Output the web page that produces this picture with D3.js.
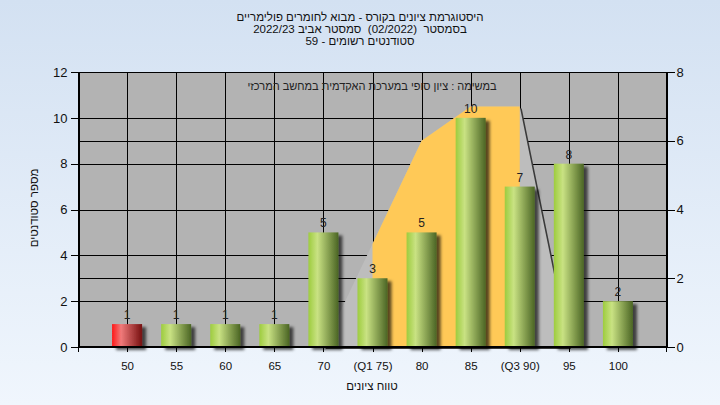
<!DOCTYPE html>
<html>
<head>
<meta charset="utf-8">
<script src="https://cdn.jsdelivr.net/npm/d3@7"></script>
<style>
  html, body { margin: 0; padding: 0; }
  body { width: 720px; height: 405px; overflow: hidden; }
  text { font-family: "Liberation Sans", "DejaVu Sans", Arial, sans-serif; }
</style>
</head>
<body>
<svg id="chart" width="720" height="405"></svg>
<script>
// ---- data ----
const categories = ["50", "55", "60", "65", "70", "(Q1 75)", "80", "85", "(Q3 90)", "95", "100"];
const counts = [1, 1, 1, 1, 5, 3, 5, 10, 7, 8, 2];
const failing = [true, false, false, false, false, false, false, false, false, false, false];
const curve = [0, 0, 0, 0, 0, 3, 6, 7, 7, 0, 0];
const quartileRange = ["(Q1 75)", "(Q3 90)"];
const leftTicks = [0, 2, 4, 6, 8, 10, 12];
const rightTicks = [0, 2, 4, 6, 8];
const titleLines = [
  "היסטוגרמת ציונים בקורס - מבוא לחומרים פולימריים",
  "בסמסטר  (02/2022)  סמסטר אביב 2022/23",
  "סטודנטים רשומים - 59"
];
const noteText = "במשימה : ציון סופי במערכת האקדמית במחשב המרכזי";
const xTitle = "טווח ציונים";
const yTitle = "מספר סטודנטים";

// ---- layout ----
const W = 720, H = 405;
const L = 78, R = 667, T = 72, B = 347;

const svg = d3.select("#chart");
const defs = svg.append("defs");

const bg = defs.append("linearGradient").attr("id", "bg").attr("x1", 0).attr("y1", 0).attr("x2", 0).attr("y2", 1);
bg.append("stop").attr("offset", "0%").attr("stop-color", "#d3e1f2");
bg.append("stop").attr("offset", "100%").attr("stop-color", "#f0f6fd");

function barGrad(id, c0, c1, c2) {
  const g = defs.append("linearGradient").attr("id", id).attr("x1", 0).attr("y1", 0).attr("x2", 1).attr("y2", 0);
  g.append("stop").attr("offset", "0%").attr("stop-color", c0);
  g.append("stop").attr("offset", "30%").attr("stop-color", c1);
  g.append("stop").attr("offset", "100%").attr("stop-color", c2);
}
barGrad("gGreen", "#9dcc3e", "#c9e283", "#4b6524");
barGrad("gRed", "#ff1616", "#f07a7a", "#761010");

const sh = defs.append("filter").attr("id", "shadow").attr("x", "-20%").attr("y", "-20%").attr("width", "160%").attr("height", "160%");
sh.append("feDropShadow").attr("dx", 4).attr("dy", 3).attr("stdDeviation", 1.6)
  .attr("flood-color", "#000").attr("flood-opacity", 0.65);

svg.append("rect").attr("width", W).attr("height", H).attr("fill", "url(#bg)");

// scales
const x = d3.scalePoint().domain(categories).range([L, R]).padding(1);
const yL = d3.scaleLinear().domain([0, 12]).range([B, T]);
const yR = d3.scaleLinear().domain([0, 8]).range([B, T]);

// plot background
svg.append("rect").attr("x", L).attr("y", T).attr("width", R - L).attr("height", B - T).attr("fill", "#b3b3b3");

// gridlines
const grid = svg.append("g").attr("stroke", "#000").attr("stroke-width", 1).attr("shape-rendering", "crispEdges");
grid.selectAll(".hl").data(leftTicks.filter(d => d > 0)).join("line")
  .attr("x1", L).attr("x2", R).attr("y1", d => Math.round(yL(d)) + 0.5).attr("y2", d => Math.round(yL(d)) + 0.5);
grid.selectAll(".hr").data(rightTicks.filter(d => d > 0)).join("line")
  .attr("x1", L).attr("x2", R).attr("y1", d => Math.round(yR(d)) + 0.5).attr("y2", d => Math.round(yR(d)) + 0.5);
grid.selectAll(".v").data(categories).join("line")
  .attr("x1", d => Math.round(x(d)) + 0.5).attr("x2", d => Math.round(x(d)) + 0.5).attr("y1", T).attr("y2", B);

// distribution area
const pts = categories.map((c, i) => ({ c, v: curve[i], i }));
const area = d3.area().x(d => x(d.c)).y0(B).y1(d => yR(d.v));
const i0 = categories.indexOf(quartileRange[0]);
const i1 = categories.indexOf(quartileRange[1]);

svg.append("path").datum(pts).attr("d", area).attr("fill", "#3a3a3a").attr("transform", "translate(2,2)");
svg.append("path").datum(pts).attr("d", area).attr("fill", "#bdbdbd");
svg.append("path").datum(pts.slice(i0, i1 + 1)).attr("d", area).attr("fill", "#ffc957");

// bars
const barW = 30;
svg.append("g").selectAll("rect").data(counts).join("rect")
  .attr("x", (d, i) => x(categories[i]) - barW / 2)
  .attr("width", barW)
  .attr("y", d => yL(d))
  .attr("height", d => B - yL(d))
  .attr("fill", (d, i) => failing[i] ? "url(#gRed)" : "url(#gGreen)")
  .attr("filter", "url(#shadow)");

// bar labels
svg.append("g").selectAll("text").data(counts).join("text")
  .attr("x", (d, i) => x(categories[i]))
  .attr("y", d => yL(d) - 5)
  .attr("text-anchor", "middle")
  .attr("font-size", 12)
  .attr("fill", "#222")
  .text(d => d);

// plot frame
svg.append("rect").attr("x", L + 0.5).attr("y", T + 0.5).attr("width", R - L - 1).attr("height", B - T - 1)
  .attr("fill", "none").attr("stroke", "#000").attr("stroke-width", 1).attr("shape-rendering", "crispEdges");

// axes
function styleAxis(g, fs) {
  g.selectAll("path, line").attr("stroke", "#000").attr("shape-rendering", "crispEdges");
  g.selectAll("text").attr("fill", "#111").attr("font-size", fs)
    .attr("font-family", "'Liberation Sans', 'DejaVu Sans', Arial, sans-serif");
}
svg.append("g").attr("transform", `translate(${L + 0.5},0)`)
  .call(d3.axisLeft(yL).tickValues(leftTicks).tickSize(8).tickSizeOuter(0).tickPadding(3))
  .call(g => styleAxis(g, 13));
svg.append("g").attr("transform", `translate(${R - 0.5},0)`)
  .call(d3.axisRight(yR).tickValues(rightTicks).tickSize(8).tickSizeOuter(0).tickPadding(2))
  .call(g => styleAxis(g, 13));
svg.append("g").attr("transform", `translate(0,${B - 0.5})`)
  .call(d3.axisBottom(x).tickSize(5).tickSizeOuter(0).tickPadding(10))
  .call(g => styleAxis(g, 11.5));
// axis line stubs below the frame
svg.append("g").attr("stroke", "#000").attr("shape-rendering", "crispEdges").selectAll("line")
  .data([L + 0.5, R - 0.5]).join("line")
  .attr("x1", d => d).attr("x2", d => d).attr("y1", B).attr("y2", B + 5);

// titles
titleLines.forEach((t, i) => {
  svg.append("text").attr("x", 360).attr("y", 21 + i * 12).attr("text-anchor", "middle")
    .style("direction", "rtl").style("white-space", "pre")
    .attr("font-size", 11.5).attr("fill", "#111").text(t);
});

svg.append("text").attr("x", 372).attr("y", 90).attr("text-anchor", "middle")
  .style("direction", "rtl").attr("font-size", 11).attr("fill", "#222").text(noteText);

svg.append("text").attr("x", 372).attr("y", 390).attr("text-anchor", "middle")
  .style("direction", "rtl").attr("font-size", 11.5).attr("fill", "#111").text(xTitle);

svg.append("text").attr("transform", `translate(38,208) rotate(-90)`).attr("text-anchor", "middle")
  .style("direction", "rtl").attr("font-size", 11.5).attr("fill", "#111").text(yTitle);
</script>
</body>
</html>
